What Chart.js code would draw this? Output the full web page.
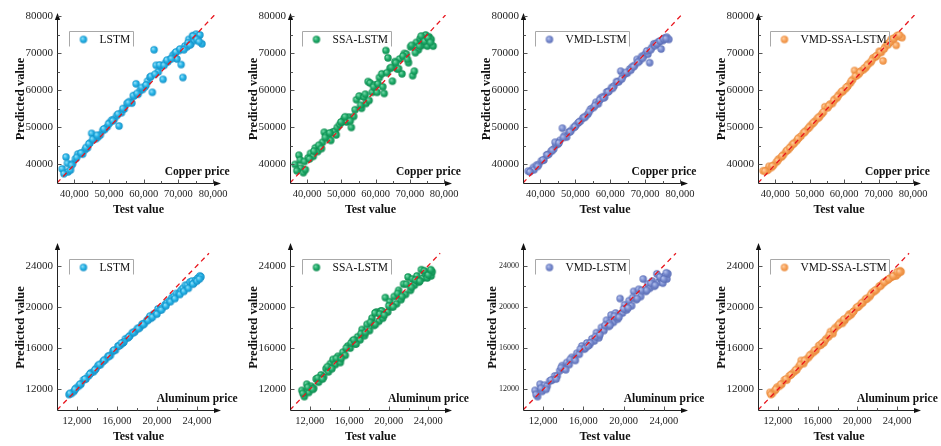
<!DOCTYPE html>
<html>
<head>
<meta charset="utf-8">
<script src="https://cdn.jsdelivr.net/npm/chart.js@4"></script>
<style>
  html, body { margin: 0; padding: 0; background: #fff; overflow: hidden; }
  #wrap { position: relative; width: 941px; height: 446px; }
  #wrap canvas { position: absolute; }
</style>
</head>
<body>
<div id="wrap"></div>
<script>
// ---- data ----
const models = ['LSTM', 'SSA-LSTM', 'VMD-LSTM', 'VMD-SSA-LSTM'];

const copperTest = [
  36500, 37600, 38000, 38200, 38900, 39500, 40300, 41000,
  41800, 42400, 43100, 43800, 44500, 45000, 45600, 46300,
  46900, 47500, 48200, 48800, 49500, 50200, 50800, 51500,
  52200, 52900, 53600, 54400, 55200, 55900, 56600, 57200,
  57800, 58400, 59000, 59700, 60400, 61100, 61800, 62500,
  63000, 63600, 64200, 64900, 65600, 66300, 67000, 67700,
  68400, 69000, 69600, 70200, 70800, 71300, 71900, 72500,
  73000, 73600, 74100, 74600, 75100, 75600, 76200, 76800,
  37000, 39200, 40700, 42000, 43400, 44200, 45300, 46600,
  48500, 49900, 51100, 52600, 54000, 55600, 57000, 58100,
  59400, 60700, 62100, 63300, 64600, 65900, 66700, 68000,
  69300, 70500, 71600, 72800, 73300, 74300, 75300, 76000
];
const copperLSTM = [
  38800, 42000, 40300, 38000, 38500, 40200, 41500, 42800,
  43000, 42800, 44000, 44500, 45800, 48400, 46800, 47000,
  47500, 48000, 49200, 49500, 50200, 51300, 52000, 52200,
  53200, 50400, 54000, 55000, 56500, 57000, 56600, 58500,
  61800, 59000, 60000, 60300, 61000, 62500, 63600, 59500,
  71000, 66800, 65000, 66500, 63000, 67500, 67800, 68500,
  69500, 70000, 68500, 70800, 67000, 63500, 72000, 71800,
  73800, 72500, 74800, 73500, 75200, 74000, 75000, 72600,
  37500, 39800, 41900, 43100, 44600, 45600, 46800, 47900,
  49600, 51000, 51800, 53600, 55100, 56700, 58600, 59200,
  60800, 61500, 63800, 64400, 66900, 66800, 68200, 68600,
  70400, 71200, 71000, 72900, 72300, 74700, 73800, 73200
];
const copperSSA = [
  40000, 42500, 41200, 39000, 37800, 38600, 41800, 43000,
  42200, 44500, 43500, 45000, 46000, 48700, 47800, 47000,
  46500, 48800, 49000, 50000, 50800, 51500, 52400, 51500,
  52800, 50000, 53000, 57500, 58500, 55200, 58200, 56500,
  62400, 62000, 59500, 61500, 59500, 63500, 64500, 59200,
  70800, 68800, 66000, 62500, 67800, 65800, 68500, 64500,
  70000, 69800, 67500, 71800, 64000, 65200, 73000, 71000,
  74000, 72200, 73500, 75000, 72000, 74500, 73800, 72000,
  38300, 40800, 41500, 43600, 45200, 44300, 47300, 48500,
  48000, 51500, 52900, 51800, 54800, 56000, 59000, 57300,
  61000, 61800, 61000, 64800, 66200, 67500, 65900, 69300,
  68400, 72200, 70200, 72000, 74700, 73300, 74200, 73000
];
const copperVMD = [
  38200, 38500, 39200, 38600, 39800, 40000, 41000, 41200,
  42600, 42800, 43600, 44200, 45300, 45500, 46500, 49800,
  47800, 47400, 48800, 49200, 50000, 50600, 51200, 51800,
  52600, 53000, 53600, 55000, 55400, 56800, 56400, 57900,
  58300, 58200, 59600, 59900, 60800, 61200, 62400, 62400,
  65200, 63800, 64500, 64700, 65800, 66400, 66800, 68400,
  68000, 69200, 69400, 70000, 69800, 67500, 71600, 72600,
  72500, 73000, 73200, 71200, 73500, 74200, 74400, 73800,
  38000, 39500, 41200, 42600, 43800, 46000, 45800, 47300,
  48800, 50200, 51500, 52700, 54300, 55900, 57400, 58000,
  59600, 60600, 62300, 63100, 64900, 65500, 66400, 67600,
  68700, 70700, 71000, 72100, 72600, 73400, 73900, 74000
];
const copperVMDSSA = [
  38300, 38400, 38600, 39500, 39200, 39800, 40600, 41500,
  42000, 42700, 43500, 44000, 44800, 45400, 45900, 46500,
  47200, 47700, 48500, 49100, 49700, 50500, 51000, 51700,
  52400, 53000, 53700, 55600, 55300, 56300, 56500, 57600,
  57900, 58800, 59400, 59800, 60500, 61200, 62000, 63000,
  65400, 64000, 64400, 65300, 65600, 66200, 67200, 67600,
  68800, 69000, 69500, 70600, 70300, 68000, 71800, 72500,
  72900, 73800, 73400, 74200, 72200, 74800, 74500, 74300,
  38200, 39600, 41000, 42300, 43800, 44500, 45600, 47000,
  48700, 50000, 51300, 52700, 54200, 55900, 57300, 58300,
  59800, 60900, 62600, 63900, 64900, 66100, 66800, 68100,
  69300, 70400, 71200, 72400, 73100, 74000, 74800, 75000
];

const aluminumTest = [
  11200, 11450, 11700, 11900, 12150, 12400,
  12650, 12900, 13150, 13400, 13650, 13900,
  14100, 14350, 14600, 14850, 15100, 15350,
  15600, 15850, 16100, 16350, 16600, 16850,
  17100, 17300, 17550, 17800, 18050, 18300,
  18500, 18750, 19000, 19200, 19400, 19650,
  19900, 20100, 20300, 20550, 20800, 21000,
  21250, 21500, 21700, 21950, 22200, 22400,
  22600, 22850, 23050, 23300, 23500, 23700,
  23900, 24100, 24300, 24400, 18600, 19300,
  11300, 11800, 12300, 12800, 13300, 13800,
  14250, 14700, 15200, 15700, 16200, 16700,
  17200, 17650, 18150, 18650, 19100, 19550,
  20000, 20450, 20900, 21350, 21800, 22300,
  22700, 23150, 23600, 24000, 24250, 16450
];
const aluminumLSTM = [
  11500, 11600, 11800, 12100, 12300, 12500,
  12900, 13000, 13300, 13600, 13700, 14000,
  14300, 14400, 14700, 14900, 15200, 15300,
  15700, 15800, 16200, 16300, 16500, 16900,
  17000, 17200, 17500, 17600, 17900, 18000,
  18300, 18400, 18700, 18900, 18900, 19300,
  19400, 19800, 19700, 19900, 20200, 20400,
  20600, 20900, 21000, 21300, 21300, 21600,
  21800, 22100, 22100, 22400, 22500, 22300,
  22600, 22800, 23000, 22900, 18300, 19100,
  11600, 12000, 12500, 13000, 13500, 13900,
  14400, 14800, 15200, 15800, 16200, 16600,
  17100, 17500, 17900, 18300, 18700, 19000,
  19300, 19700, 20100, 20500, 20800, 21200,
  21500, 21800, 22200, 22500, 22700, 16500
];
const aluminumSSA = [
  11900, 11300, 12500, 11700, 12300, 12100,
  13000, 12700, 13400, 13200, 14000, 13700,
  14500, 14900, 14400, 15200, 14600, 15600,
  15300, 16200, 16000, 16700, 16400, 17100,
  16800, 17800, 17200, 18300, 17700, 18900,
  18200, 19500, 18600, 19600, 18900, 20900,
  19500, 20500, 20000, 21000, 20300, 21600,
  20700, 22200, 21200, 22900, 21600, 22700,
  22100, 23000, 22400, 23600, 22800, 23200,
  22800, 23300, 23000, 23400, 19400, 19600,
  11600, 12200, 12000, 13100, 13000, 14200,
  14000, 15000, 15000, 16000, 16500, 16400,
  17400, 17500, 18500, 18300, 19300, 19200,
  20100, 20000, 21300, 21000, 22200, 21900,
  22600, 22500, 23500, 23100, 23600, 16800
];
const aluminumVMD = [
  11900, 11300, 12500, 11800, 12400, 12300,
  12800, 12900, 13300, 13300, 13800, 14300,
  14000, 14600, 14400, 15100, 14900, 15500,
  15400, 16200, 15900, 16500, 16300, 16900,
  16700, 17500, 17000, 18000, 17700, 18700,
  18100, 19200, 18500, 19400, 18800, 20800,
  19400, 20200, 19700, 20600, 20100, 21500,
  20700, 21700, 21000, 22700, 21500, 22200,
  21800, 22500, 22000, 23200, 22400, 22700,
  22300, 23000, 22700, 23200, 18400, 19000,
  11500, 12100, 12000, 12900, 13000, 14100,
  13900, 14900, 14800, 15900, 16000, 16500,
  17100, 17300, 18200, 18200, 19100, 19000,
  19800, 19900, 20900, 20800, 21600, 21600,
  22300, 22100, 22900, 22700, 23300, 16200
];
const aluminumVMDSSA = [
  11700, 11600, 11900, 12200, 12300, 12500,
  12900, 12900, 13300, 13500, 13700, 13900,
  14200, 14800, 14500, 14900, 15100, 15400,
  15600, 15800, 16200, 16300, 16500, 16900,
  17100, 17600, 17400, 18000, 18200, 18500,
  18400, 18700, 19000, 19300, 19300, 19600,
  19900, 20000, 20200, 20400, 20700, 20800,
  21000, 21400, 21500, 21700, 22000, 22100,
  22300, 22500, 22600, 22800, 22900, 23000,
  23000, 23200, 23500, 23400, 18700, 19200,
  11500, 12000, 12500, 13000, 13400, 13900,
  14400, 14800, 15300, 15800, 16300, 16700,
  17300, 17800, 18300, 18800, 19100, 19500,
  20000, 20400, 20800, 21200, 21600, 22000,
  22400, 22700, 23000, 23400, 23400, 16500
];

const copperTicks = [40000, 50000, 60000, 70000, 80000];
const copperMinorTicks = [45000, 55000, 65000, 75000];
const aluminumTicks = [12000, 16000, 20000, 24000];
const aluminumMinorTicks = [14000, 18000, 22000];

// ---- layout / styling ----
const FONT = '"Liberation Serif", "Times New Roman", serif';
const colLeft = [57, 290, 523, 758];
const colWidth = [163, 161, 164, 162];
const rowTop = [15, 245];
const rowHeight = [168, 165];
const PAD_L = 57, PAD_T = 15, PAD_R = 22, AXIS_H = 40;
const DOT_R = 3.7;

const colors = [
  { light: '#9be2fa', base: '#25b3e6', edge: '#1790c6' },
  { light: '#7fdcae', base: '#1eaa68', edge: '#0e8a4f' },
  { light: '#b9c5ee', base: '#7a8dd0', edge: '#5b6db5' },
  { light: '#ffd2a8', base: '#f8a45c', edge: '#e98a3c' }
];

const metals = [
  {
    label: 'Copper price', test: copperTest,
    preds: [copperLSTM, copperSSA, copperVMD, copperVMDSSA],
    ticks: copperTicks, minor: copperMinorTicks,
    xMin: 35000, xMax: 82000, yMin: 35000, yMax: 80400, diag: [35000, 80400]
  },
  {
    label: 'Aluminum price', test: aluminumTest,
    preds: [aluminumLSTM, aluminumSSA, aluminumVMD, aluminumVMDSSA],
    ticks: aluminumTicks, minor: aluminumMinorTicks,
    xMin: 10000, xMax: 26300, yMin: 10000, yMax: 26000, diag: [10000, 25200]
  }
];

function sphere(c, r) {
  const s = Math.ceil(r * 2 + 2);
  const cv = document.createElement('canvas');
  cv.width = cv.height = s;
  const g = cv.getContext('2d');
  const grd = g.createRadialGradient(s / 2 - r * 0.35, s / 2 - r * 0.35, 0.2, s / 2, s / 2, r);
  grd.addColorStop(0, c.light);
  grd.addColorStop(0.55, c.base);
  grd.addColorStop(1, c.edge);
  g.fillStyle = grd;
  g.beginPath();
  g.arc(s / 2, s / 2, r, 0, Math.PI * 2);
  g.fill();
  return cv;
}

const decor = {
  id: 'decor',
  afterDraw(chart, args, o) {
    const { ctx, chartArea: a, scales: { x, y } } = chart;
    const ax = Math.round(a.left) + 0.5, ay = Math.round(a.bottom) + 0.5;
    ctx.save();
    // axes with arrows
    ctx.strokeStyle = '#222';
    ctx.fillStyle = '#111';
    ctx.lineWidth = 1;
    ctx.beginPath();
    ctx.moveTo(ax, ay); ctx.lineTo(ax, a.top + 2);
    ctx.moveTo(ax, ay); ctx.lineTo(a.right - 2, ay);
    ctx.stroke();
    ctx.beginPath();
    ctx.moveTo(ax, a.top - 2); ctx.lineTo(ax - 2.6, a.top + 5); ctx.lineTo(ax + 2.6, a.top + 5); ctx.closePath();
    ctx.fill();
    ctx.beginPath();
    ctx.moveTo(a.right + 1, ay); ctx.lineTo(a.right - 6, ay - 2.6); ctx.lineTo(a.right - 6, ay + 2.6); ctx.closePath();
    ctx.fill();
    // inward ticks
    ctx.strokeStyle = '#555';
    ctx.beginPath();
    o.ticks.forEach(v => {
      const px = Math.round(x.getPixelForValue(v)) + 0.5;
      const py = Math.round(y.getPixelForValue(v)) + 0.5;
      ctx.moveTo(px, ay); ctx.lineTo(px, ay - 4);
      ctx.moveTo(ax, py); ctx.lineTo(ax + 4, py);
    });
    o.minor.forEach(v => {
      const px = Math.round(x.getPixelForValue(v)) + 0.5;
      const py = Math.round(y.getPixelForValue(v)) + 0.5;
      ctx.moveTo(px, ay); ctx.lineTo(px, ay - 2.5);
      ctx.moveTo(ax, py); ctx.lineTo(ax + 2.5, py);
    });
    ctx.stroke();
    // axis titles
    ctx.fillStyle = '#111';
    ctx.textAlign = 'center';
    ctx.textBaseline = 'middle';
    ctx.font = 'bold 12px ' + FONT;
    ctx.fillText('Test value', (a.left + a.right) / 2, a.bottom + 27);
    ctx.save();
    ctx.translate(a.left - o.titleOff, (a.top + a.bottom) / 2);
    ctx.rotate(-Math.PI / 2);
    ctx.font = 'bold 12.5px ' + FONT;
    ctx.fillText('Predicted value', 0, 0);
    ctx.restore();
    // metal label
    ctx.font = 'bold 11.5px ' + FONT;
    ctx.fillText(o.metal, a.left + (a.right - a.left) * 0.86, a.bottom - 11);
    // legend box
    ctx.font = '11.5px ' + FONT;
    const tw = ctx.measureText(o.model).width;
    const bx = Math.round(a.left + 12) + 0.5, by = Math.round(a.top + o.legTop) + 0.5;
    const bw = Math.round(30 + tw + 3), bh = 15;
    ctx.strokeStyle = '#a8a8a8';
    ctx.beginPath();
    ctx.moveTo(bx, by + bh); ctx.lineTo(bx, by); ctx.lineTo(bx + bw, by); ctx.lineTo(bx + bw, by + bh);
    ctx.stroke();
    const img = o.img;
    ctx.drawImage(img, bx + 14 - img.width / 2, by + 8 - img.height / 2);
    ctx.fillStyle = '#111';
    ctx.textAlign = 'left';
    ctx.fillText(o.model, bx + 30, by + 8);
    ctx.restore();
  }
};

const wrap = document.getElementById('wrap');

metals.forEach((m, r) => {
  models.forEach((model, c) => {
    const plotW = colWidth[c], plotH = rowHeight[r];
    const cv = document.createElement('canvas');
    cv.width = PAD_L + plotW + PAD_R;
    cv.height = PAD_T + plotH + AXIS_H;
    cv.style.left = (colLeft[c] - PAD_L) + 'px';
    cv.style.top = (rowTop[r] - PAD_T) + 'px';
    wrap.appendChild(cv);

    const img = sphere(colors[c], DOT_R);
    const points = m.test.map((t, i) => ({ x: t, y: m.preds[c][i] }));
    const smallY = (r === 1 && c === 2);

    new Chart(cv, {
      type: 'scatter',
      data: {
        datasets: [
          {
            type: 'line',
            data: [{ x: m.diag[0], y: m.diag[0] }, { x: m.diag[1], y: m.diag[1] }],
            borderColor: '#e8141c', borderWidth: 1.3, borderDash: [5, 4],
            pointRadius: 0, fill: false, order: 0
          },
          { data: points, pointStyle: img, pointRadius: DOT_R, order: 1 }
        ]
      },
      options: {
        responsive: false,
        animation: false,
        events: [],
        layout: { padding: { top: PAD_T, right: PAD_R, left: 0, bottom: 0 } },
        plugins: {
          legend: { display: false },
          tooltip: { enabled: false },
          decor: {
            ticks: m.ticks, minor: m.minor, metal: m.label, model: model, img: img,
            titleOff: smallY ? 30 : 36, legTop: r === 0 ? 16 : 14
          }
        },
        scales: {
          x: {
            type: 'linear', min: m.xMin, max: m.xMax,
            afterFit(s) { s.height = AXIS_H; },
            afterBuildTicks(s) { s.ticks = m.ticks.map(v => ({ value: v })); },
            grid: { display: false, drawTicks: false },
            border: { display: false },
            ticks: {
              font: { family: FONT, size: 10.5 }, color: '#222', padding: 5,
              maxRotation: 0, autoSkip: false,
              callback: v => Number(v).toLocaleString('en-US')
            }
          },
          y: {
            type: 'linear', min: m.yMin, max: m.yMax,
            afterFit(s) { s.width = PAD_L; },
            afterBuildTicks(s) { s.ticks = m.ticks.map(v => ({ value: v })); },
            grid: { display: false, drawTicks: false },
            border: { display: false },
            ticks: {
              font: { family: FONT, size: smallY ? 8 : 11 }, color: '#222', padding: 4,
              autoSkip: false,
              callback: v => String(v)
            }
          }
        }
      },
      plugins: [decor]
    });
  });
});
</script>
</body>
</html>
